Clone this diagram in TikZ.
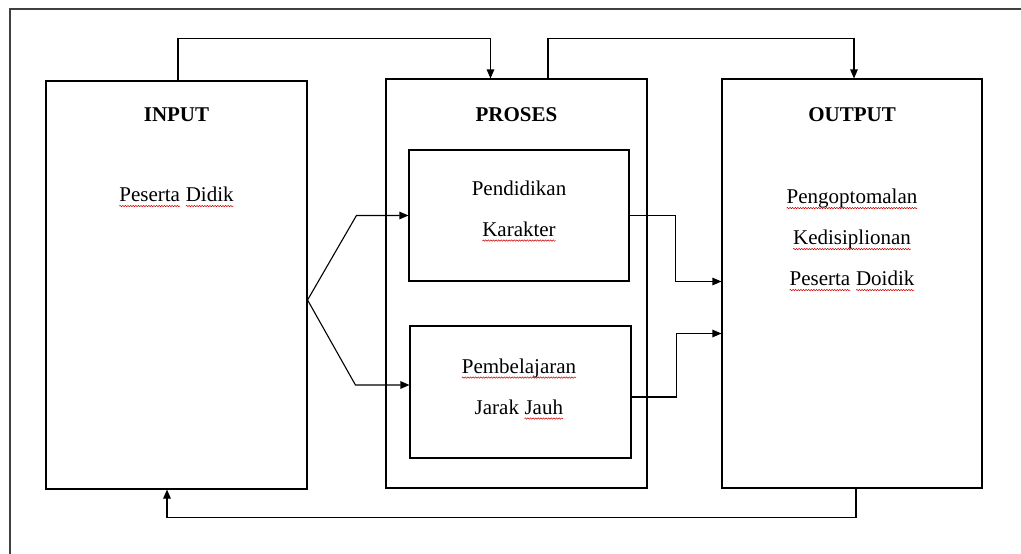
\documentclass[tikz,border=0pt]{standalone}
\usepackage{fontspec}
\setmainfont{Liberation Serif}
\usetikzlibrary{arrows.meta, decorations.pathmorphing}
\newcommand\spellwave[1]{\tikz[baseline=(w.base)]{\node[inner sep=0pt, outer sep=0pt] (w) {#1};
  \draw[red!80!black, line width=0.5pt, decorate, decoration={snake, amplitude=0.7pt, segment length=2.6pt}] ([yshift=-4.5pt]w.base west) -- ([yshift=-4.5pt]w.base east);}}
\tikzset{
  block/.style={draw, rectangle, line width=1.1pt, inner sep=0pt},
  arr/.style={-{Triangle[length=9pt,width=7.5pt]}, line width=1.1pt},
  lbl/.style={align=center, font=\fontsize{21}{41}\selectfont}
}
\begin{document}
\begin{tikzpicture}[x=1pt, y=-1pt]
		\useasboundingbox (0,0) rectangle (1021,554);
		\draw[line width=1.1pt, black!75] (10,554) -- (10,9) -- (1021,9);

		\node (input) [block, minimum width=261pt, minimum height=408pt] at (176.5,285) {};
		\node (proses) [block, minimum width=261pt, minimum height=409pt] at (516.5,283.5) {};
		\node (output) [block, minimum width=260pt, minimum height=409pt] at (852,283.5) {};
		\node (pendidikan) [block, minimum width=220pt, minimum height=131pt] at (519,215.5) {};
		\node (pembelajaran) [block, minimum width=221pt, minimum height=132pt] at (520.5,392) {};

		\node (inputtitle) [lbl, font=\fontsize{21}{41}\selectfont\bfseries] at (176.5,115) {INPUT};
		\node (prosestitle) [lbl, font=\fontsize{21}{41}\selectfont\bfseries] at (516.5,115) {PROSES};
		\node (outputtitle) [lbl, font=\fontsize{21}{41}\selectfont\bfseries] at (852,115) {OUTPUT};
		\node (peserta) [lbl] at (176.5,197) {\spellwave{Peserta} \spellwave{Didik}};
		\node (karakter) [lbl] at (519,211) {Pendidikan\\\spellwave{Karakter}};
		\node (pjj) [lbl] at (519,389) {\spellwave{Pembelajaran}\\Jarak \spellwave{Jauh}};
		\node (optimal) [lbl] at (852,240) {\spellwave{Pengoptomalan}\\\spellwave{Kedisiplionan}\\\spellwave{Peserta} \spellwave{Doidik}};

		\coordinate (split) at ([yshift=-15pt]input.east);
		\draw[arr] (split) -- ([xshift=-52pt]pendidikan.west) -- (pendidikan.west);
		\draw[arr] (split) -- ([xshift=-54pt,yshift=7pt]pembelajaran.west) -- ([yshift=7pt]pembelajaran.west);
		\draw[arr] (pendidikan.east) -- ++(46,0) |- ([yshift=2pt]output.west);
		\draw[arr] ([yshift=-5pt]pembelajaran.east) -- ++(45,0) |- ([yshift=-50pt]output.west);
		\draw[arr] ([xshift=1.5pt]input.north) -- ++(0,-42) -| ([xshift=-26pt]proses.north);
		\draw[arr] ([xshift=31.5pt]proses.north) -- ++(0,-40) -| ([xshift=2pt]output.north);
		\draw[arr] ([xshift=4pt]output.south) -- ++(0,29) -| ([xshift=-9.5pt]input.south);
	\end{tikzpicture}
\end{document}
